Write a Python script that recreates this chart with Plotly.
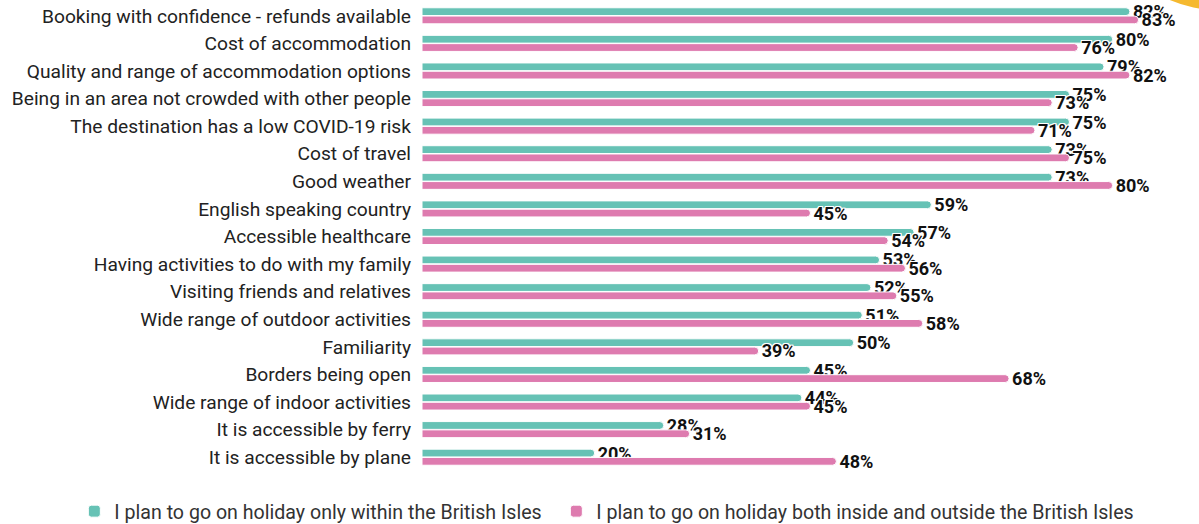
import plotly.graph_objects as go

# Travel decision factors, ordered as listed (top to bottom)
factors = [
    "Booking with confidence - refunds available",
    "Cost of accommodation",
    "Quality and range of accommodation options",
    "Being in an area not crowded with other people",
    "The destination has a low COVID-19 risk",
    "Cost of travel",
    "Good weather",
    "English speaking country",
    "Accessible healthcare",
    "Having activities to do with my family",
    "Visiting friends and relatives",
    "Wide range of outdoor activities",
    "Familiarity",
    "Borders being open",
    "Wide range of indoor activities",
    "It is accessible by ferry",
    "It is accessible by plane",
]

within_isles = [82, 80, 79, 75, 75, 73, 73, 59, 57, 53, 52, 51, 50, 45, 44, 28, 20]
inside_outside = [83, 76, 82, 73, 71, 75, 80, 45, 54, 56, 55, 58, 39, 68, 45, 31, 48]

series_names = [
    "I plan to go on holiday only within the British Isles",
    "I plan to go on holiday both inside and outside the British Isles",
]
series_colors = ["#66C2B5", "#DE7BAF"]
legend_ids = ["legend", "legend2"]

label_shadow = ("1px 1px 0 #fff, -1px -1px 0 #fff, 1px -1px 0 #fff, -1px 1px 0 #fff, "
                "0 1px 0 #fff, 0 -1px 0 #fff, 1px 0 0 #fff, -1px 0 0 #fff")

fig = go.Figure()
for name, vals, color, lg in zip(series_names, [within_isles, inside_outside],
                                 series_colors, legend_ids):
    fig.add_trace(go.Bar(
        name=name,
        y=factors,
        x=vals,
        orientation="h",
        legend=lg,
        marker=dict(color=color, line=dict(color="#ffffff", width=1)),
        text=[f"{v}%" for v in vals],
        textposition="outside",
        constraintext="none",
        cliponaxis=False,
        textfont=dict(family="Roboto", size=18, color="#111111", weight="bold",
                      shadow=label_shadow),
    ))

legend_style = dict(
    orientation="h",
    xref="container", yref="container",
    xanchor="left", y=0.024, yanchor="middle",
    font=dict(family="Roboto", size=19.6, color="#333333"),
    itemwidth=30,
)

fig.update_layout(
    width=1199,
    height=524,
    barmode="group",
    bargap=0.4,
    bargroupgap=0.06,
    barcornerradius=4,
    plot_bgcolor="#ffffff",
    paper_bgcolor="#ffffff",
    margin=dict(l=422, r=0, t=2, b=53),
    font=dict(family="Roboto", size=19, color="#222222"),
    xaxis=dict(range=[0, 90], visible=False),
    yaxis=dict(autorange="reversed", showgrid=False, ticks="", ticklabelstandoff=10,
               tickfont=dict(family="Roboto", size=19.2, color="#222222")),
    legend=dict(x=0.062, **legend_style),
    legend2=dict(x=0.464, **legend_style),
    showlegend=True,
    shapes=[dict(
        type="circle", xref="paper", yref="paper",
        x0=0.86, x1=1.19, y0=0.983, y1=1.55,
        fillcolor="#F5B92F", line=dict(width=0), layer="below",
    )],
)

fig.write_html("out.html")
